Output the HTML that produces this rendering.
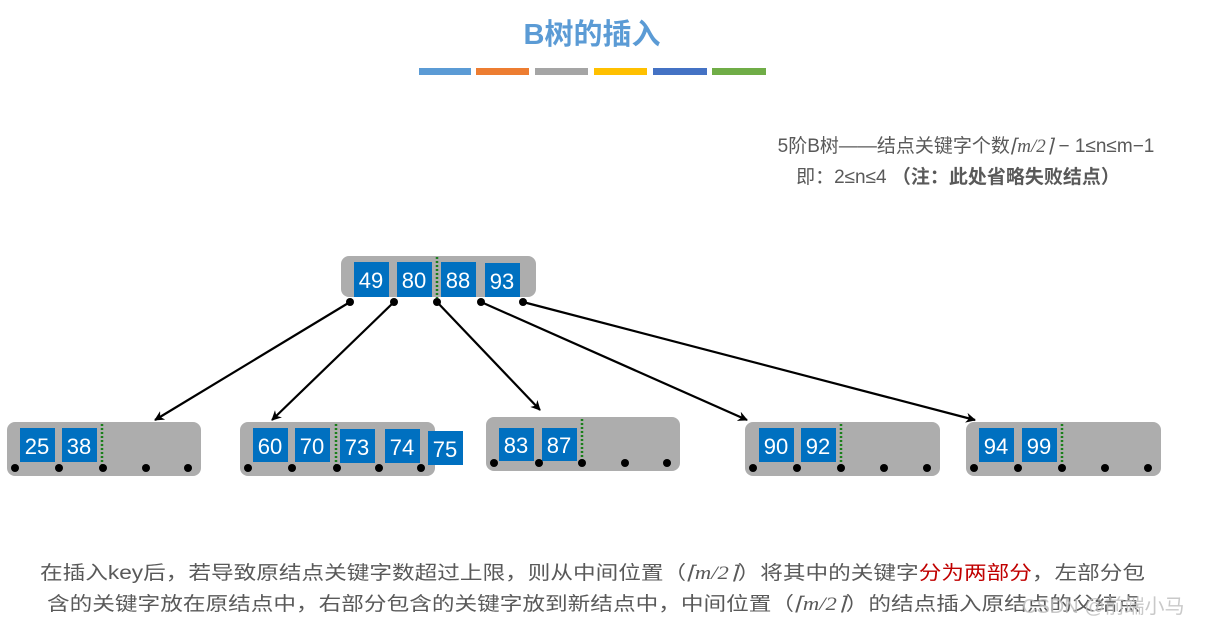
<!DOCTYPE html>
<html><head><meta charset="utf-8"><style>
html,body{margin:0;padding:0;background:#fff;width:1209px;height:630px;overflow:hidden}
svg{display:block}
text{font-family:"Liberation Sans","Noto Sans CJK SC",sans-serif}
.k{fill:#fff;font-size:22px;text-anchor:middle}
</style></head><body>
<svg width="1209" height="630" viewBox="0 0 1209 630">
<defs><marker id="a" markerWidth="10" markerHeight="10" refX="9" refY="5" orient="auto" markerUnits="userSpaceOnUse"><path d="M0,0 L10,5 L0,10 L3,5 z" fill="#000"/></marker></defs>
<text x="592" y="44" font-size="29" font-weight="bold" fill="#5b9bd5" text-anchor="middle">B树的插入</text>
<rect x="419" y="68" width="52" height="7" fill="#5b9bd5"/>
<rect x="476" y="68" width="53" height="7" fill="#ed7d31"/>
<rect x="535" y="68" width="53" height="7" fill="#a5a5a5"/>
<rect x="594" y="68" width="53" height="7" fill="#ffc000"/>
<rect x="653" y="68" width="54" height="7" fill="#4472c4"/>
<rect x="712" y="68" width="54" height="7" fill="#70ad47"/>
<text x="966" y="152" font-size="19" fill="#595959" text-anchor="middle">5阶B树——结点关键字个数<tspan font-family="Liberation Serif" font-style="italic">⌈m/2⌉</tspan> − 1≤n≤m−1</text>
<text x="958" y="183" font-size="19" fill="#595959" text-anchor="middle">即：2≤n≤4 <tspan font-weight="bold">（注：此处省略失败结点）</tspan></text>

<g stroke="#000" stroke-width="2.2" fill="none" marker-end="url(#a)">
<line x1="350" y1="302" x2="155" y2="420"/>
<line x1="394" y1="302" x2="272" y2="420"/>
<line x1="437" y1="302" x2="540" y2="410"/>
<line x1="481" y1="302" x2="747" y2="420"/>
<line x1="523" y1="302" x2="975" y2="420"/>
</g>

<!-- root -->
<rect x="341" y="256" width="195" height="41" rx="8" fill="#adadad"/>
<g fill="#0070c0">
<rect x="354" y="262" width="35" height="35"/><rect x="397" y="262" width="35" height="35"/>
<rect x="441" y="262" width="35" height="35"/><rect x="485" y="263" width="35" height="34"/>
</g>
<g class="k"><text class="k" x="371" y="288">49</text><text class="k" x="414" y="288">80</text><text class="k" x="458" y="288">88</text><text class="k" x="502" y="289">93</text></g>
<line x1="437" y1="257" x2="437" y2="298" stroke="#1a7f1a" stroke-width="2.5" stroke-dasharray="2,2"/>
<g fill="#000"><circle cx="350" cy="302" r="4"/><circle cx="394" cy="302" r="4"/><circle cx="437" cy="302" r="4"/><circle cx="481" cy="302" r="4"/><circle cx="523" cy="302" r="4"/></g>

<!-- leaf1 -->
<rect x="7" y="422" width="194" height="54" rx="8" fill="#adadad"/>
<rect x="20" y="428" width="35" height="34" fill="#0070c0"/><rect x="62" y="428" width="35" height="34" fill="#0070c0"/>
<text class="k" x="37" y="454">25</text><text class="k" x="79" y="454">38</text>
<line x1="102" y1="424" x2="102" y2="466" stroke="#1a7f1a" stroke-width="2.5" stroke-dasharray="2,2"/>
<g fill="#000"><circle cx="15" cy="468" r="4"/><circle cx="59" cy="468" r="4"/><circle cx="103" cy="468" r="4"/><circle cx="146" cy="468" r="4"/><circle cx="188" cy="468" r="4"/></g>

<!-- leaf2 -->
<rect x="240" y="422" width="195" height="54" rx="8" fill="#adadad"/>
<g fill="#0070c0"><rect x="253" y="428" width="35" height="34"/><rect x="295" y="428" width="35" height="34"/><rect x="340" y="429" width="35" height="34"/><rect x="385" y="429" width="35" height="34"/><rect x="428" y="431" width="35" height="34"/></g>
<text class="k" x="270" y="454">60</text><text class="k" x="312" y="454">70</text><text class="k" x="357" y="455">73</text><text class="k" x="402" y="455">74</text><text class="k" x="445" y="457">75</text>
<line x1="336" y1="424" x2="336" y2="466" stroke="#1a7f1a" stroke-width="2.5" stroke-dasharray="2,2"/>
<g fill="#000"><circle cx="248" cy="468" r="4"/><circle cx="292" cy="468" r="4"/><circle cx="337" cy="468" r="4"/><circle cx="379" cy="468" r="4"/><circle cx="421" cy="468" r="4"/></g>

<!-- leaf3 -->
<rect x="486" y="417" width="194" height="54" rx="8" fill="#adadad"/>
<rect x="499" y="428" width="35" height="33" fill="#0070c0"/><rect x="542" y="428" width="35" height="33" fill="#0070c0"/>
<text class="k" x="516" y="453">83</text><text class="k" x="559" y="453">87</text>
<line x1="582" y1="419" x2="582" y2="461" stroke="#1a7f1a" stroke-width="2.5" stroke-dasharray="2,2"/>
<g fill="#000"><circle cx="494" cy="463" r="4"/><circle cx="539" cy="463" r="4"/><circle cx="582" cy="463" r="4"/><circle cx="625" cy="463" r="4"/><circle cx="667" cy="463" r="4"/></g>

<!-- leaf4 -->
<rect x="745" y="422" width="195" height="54" rx="8" fill="#adadad"/>
<rect x="759" y="428" width="35" height="34" fill="#0070c0"/><rect x="801" y="428" width="35" height="34" fill="#0070c0"/>
<text class="k" x="776" y="454">90</text><text class="k" x="818" y="454">92</text>
<line x1="841" y1="424" x2="841" y2="466" stroke="#1a7f1a" stroke-width="2.5" stroke-dasharray="2,2"/>
<g fill="#000"><circle cx="753" cy="468" r="4"/><circle cx="797" cy="468" r="4"/><circle cx="841" cy="468" r="4"/><circle cx="884" cy="468" r="4"/><circle cx="927" cy="468" r="4"/></g>

<!-- leaf5 -->
<rect x="966" y="422" width="195" height="54" rx="8" fill="#adadad"/>
<rect x="979" y="428" width="35" height="34" fill="#0070c0"/><rect x="1022" y="428" width="35" height="34" fill="#0070c0"/>
<text class="k" x="996" y="454">94</text><text class="k" x="1039" y="454">99</text>
<line x1="1062" y1="424" x2="1062" y2="466" stroke="#1a7f1a" stroke-width="2.5" stroke-dasharray="2,2"/>
<g fill="#000"><circle cx="974" cy="468" r="4"/><circle cx="1018" cy="468" r="4"/><circle cx="1062" cy="468" r="4"/><circle cx="1105" cy="468" r="4"/><circle cx="1148" cy="468" r="4"/></g>

<text x="40" y="579" font-size="19" fill="#595959" textLength="1105" lengthAdjust="spacingAndGlyphs">在插入key后，若导致原结点关键字数超过上限，则从中间位置（<tspan font-family="Liberation Serif" font-style="italic">⌈m/2⌉</tspan>）将其中的关键字<tspan fill="#c00000">分为两部分</tspan>，左部分包</text>
<text x="47" y="610" font-size="19" fill="#595959" textLength="1093" lengthAdjust="spacingAndGlyphs">含的关键字放在原结点中，右部分包含的关键字放到新结点中，中间位置（<tspan font-family="Liberation Serif" font-style="italic">⌈m/2⌉</tspan>）的结点插入原结点的父结点</text>
<text x="1022" y="613" font-size="20" fill="#bbbbbb" fill-opacity="0.8">CSDN @前端小马</text>
</svg>
</body></html>
